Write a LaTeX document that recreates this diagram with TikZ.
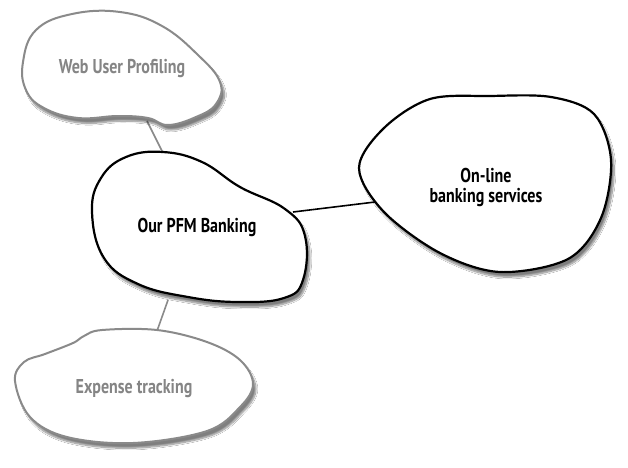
\documentclass[tikz,border=0pt]{standalone}
\usepackage{fontspec}
\newfontfamily\hand{PT Sans}[FakeStretch=0.8]
\usetikzlibrary{shadows.blur}
\definecolor{blobgray}{HTML}{8A8A8A}
\definecolor{txtgray}{HTML}{858585}
\begin{document}
\begin{tikzpicture}[x=1pt,y=-1pt,
  blobshadow/.style={blur shadow={shadow xshift=3pt,shadow yshift=-5pt,shadow blur steps=10,shadow opacity=50}},
  grayblob/.style={draw=blobgray,line width=2pt,fill=white,blobshadow},
  blackblob/.style={draw=black,line width=2.2pt,fill=white,blobshadow},
  link/.style={line width=1.6pt},
  graylink/.style={link,draw=blobgray},
  lbl/.style={font=\hand\bfseries\fontsize{20}{20}\selectfont,align=center,inner sep=0pt},
  graylbl/.style={lbl,text=txtgray}]
\useasboundingbox (0,0) rectangle (628,467);
\fill[white] (0,0) rectangle (628,467);
% attach points
\coordinate (wA) at (147,121);
\coordinate (cT) at (163,153);
\coordinate (cR) at (293,212);
\coordinate (oL) at (375,202);
\coordinate (cB) at (168,300);
\coordinate (eT) at (157,331);
% connectors
\draw[graylink] (wA) -- (cT);
\draw[link] (cR) -- (oL);
\draw[graylink] (cB) -- (eT);
% Web User Profiling blob
\path[grayblob] plot[smooth cycle,tension=0.7] coordinates {
  (23,62) (36,30) (72,14) (120,12) (162,26) (198,55) (220,82) (216,104)
  (196,117) (168,125) (148,118) (118,116) (78,118) (44,108) (26,90)};
% Our PFM Banking blob
\path[blackblob] plot[smooth cycle,tension=0.7] coordinates {
  (92,212) (101,178) (126,157) (163,152) (202,162) (240,187) (285,209)
  (305,236) (303,280) (284,298) (238,302) (188,297) (138,284) (104,258)};
% On-line banking services blob
\path[blackblob] plot[smooth cycle,tension=0.55] coordinates {
  (359,168) (384,128) (430,99) (490,96) (551,97) (594,114) (611,160)
  (601,218) (568,259) (500,272) (440,253) (384,212)};
% Expense tracking blob
\path[grayblob] plot[smooth cycle,tension=0.6] coordinates {
  (84,336) (102,330) (157,330) (207,342) (240,360) (253,384) (240,407)
  (207,431) (133,443) (67,437) (30,417) (15,381) (24,362) (45,354) (73,343)};
% labels
\node[graylbl] (web) at (122,69) {Web User Profiling};
\node[lbl] (pfm) at (197,227) {Our PFM Banking};
\node[lbl] (online) at (486,187) {On-line\\banking services};
\node[graylbl] (exp) at (134,388) {Expense tracking};
\end{tikzpicture}
\end{document}
